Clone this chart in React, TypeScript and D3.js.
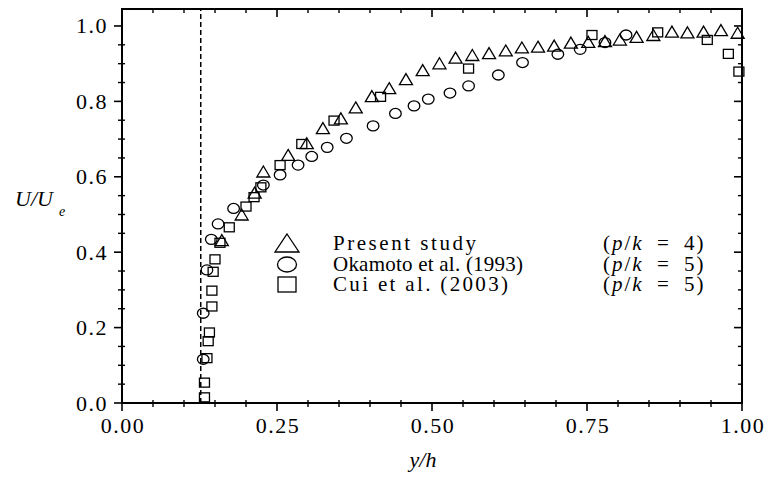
import React from "react";
import * as d3 from "d3";

// Present study (p/k = 4) — triangles
const presentX = [0.161, 0.193, 0.214, 0.228, 0.268, 0.298, 0.324, 0.353, 0.377, 0.403, 0.431, 0.458, 0.485, 0.512, 0.538, 0.565, 0.592, 0.619, 0.645, 0.671, 0.697, 0.724, 0.752, 0.779, 0.803, 0.830, 0.857, 0.887, 0.912, 0.938, 0.966, 0.993];
const presentY = [0.432, 0.500, 0.558, 0.614, 0.658, 0.689, 0.729, 0.755, 0.784, 0.814, 0.835, 0.859, 0.883, 0.901, 0.916, 0.923, 0.928, 0.935, 0.943, 0.945, 0.948, 0.956, 0.958, 0.960, 0.964, 0.971, 0.976, 0.985, 0.983, 0.985, 0.989, 0.982];

// Okamoto et al. (1993) (p/k = 5) — circles
const okamotoX = [0.131, 0.131, 0.137, 0.144, 0.155, 0.180, 0.228, 0.255, 0.284, 0.306, 0.331, 0.362, 0.405, 0.441, 0.471, 0.494, 0.529, 0.559, 0.607, 0.646, 0.703, 0.739, 0.779, 0.813];
const okamotoY = [0.116, 0.238, 0.353, 0.434, 0.475, 0.516, 0.578, 0.605, 0.631, 0.654, 0.678, 0.702, 0.735, 0.768, 0.788, 0.806, 0.822, 0.841, 0.870, 0.903, 0.925, 0.938, 0.956, 0.976];

// Cui et al. (2003) (p/k = 5) — squares
const cuiX = [0.133, 0.133, 0.137, 0.139, 0.141, 0.145, 0.145, 0.147, 0.150, 0.158, 0.173, 0.200, 0.213, 0.224, 0.255, 0.290, 0.342, 0.417, 0.559, 0.758, 0.864, 0.944, 0.978, 0.995];
const cuiY = [0.015, 0.054, 0.119, 0.164, 0.187, 0.256, 0.298, 0.348, 0.381, 0.425, 0.466, 0.521, 0.546, 0.572, 0.631, 0.687, 0.749, 0.812, 0.887, 0.976, 0.983, 0.963, 0.926, 0.879];

const dashedLineX = 0.127;

const xTickValues = [0, 0.25, 0.5, 0.75, 1.0];
const xTickLabels = ["0.00", "0.25", "0.50", "0.75", "1.00"];
const yTickValues = [0, 0.2, 0.4, 0.6, 0.8, 1.0];
const yTickLabels = ["0.0", "0.2", "0.4", "0.6", "0.8", "1.0"];

const legendNames = ["Present study", "Okamoto et al. (1993)", "Cui et al. (2003)"];
const legendPk = ["4", "5", "5"];

const W = 764;
const H = 478;
const L = 122, R = 742, T = 9, B = 403;
const FONT = "Liberation Serif, Times New Roman, Times, serif";
const TS: React.CSSProperties = { fontFamily: FONT };

const x = d3.scaleLinear().domain([0, 1]).range([L, R]);
const y = d3.scaleLinear().domain([0, 1.045]).range([B, T]);

function Triangle({ cx, cy, w, h }: { cx: number; cy: number; w: number; h: number }) {
  const p = d3.path();
  p.moveTo(cx, cy - h / 2);
  p.lineTo(cx + w / 2, cy + h / 2);
  p.lineTo(cx - w / 2, cy + h / 2);
  p.closePath();
  return <path d={p.toString()} fill="none" stroke="#000" strokeWidth={1.3} strokeLinejoin="miter" />;
}

export default function App() {
  const minorX = d3.range(0.05, 1.0, 0.05).filter((v) => Math.abs(v / 0.25 - Math.round(v / 0.25)) > 1e-6);
  const minorY = d3.range(0.05, 1.04, 0.05).filter((v) => Math.abs(v / 0.2 - Math.round(v / 0.2)) > 1e-6);

  const legendRowsY = [243, 264.5, 284.5];
  const legendTextBase = [250, 271, 291];
  const nameLengths = [143, 190, 175];

  return (
    <svg width={W} height={H} style={{ position: "absolute", left: 0, top: 0, background: "#fff" }}>
      <rect x={0} y={0} width={W} height={H} fill="#fff" />
      {/* dashed line */}
      <line x1={x(dashedLineX)} x2={x(dashedLineX)} y1={B} y2={T} stroke="#000" strokeWidth={1.5} strokeDasharray="5,3" />

      {/* data */}
      {presentX.map((v, i) => (
        <Triangle key={"t" + i} cx={x(v)} cy={y(presentY[i])} w={13} h={11} />
      ))}
      {okamotoX.map((v, i) => (
        <ellipse key={"c" + i} cx={x(v)} cy={y(okamotoY[i])} rx={5.8} ry={5} fill="none" stroke="#000" strokeWidth={1.3} />
      ))}
      {cuiX.map((v, i) => (
        <rect key={"s" + i} x={x(v) - 5} y={y(cuiY[i]) - 4.5} width={10} height={9} fill="none" stroke="#000" strokeWidth={1.3} />
      ))}

      {/* frame */}
      <rect x={L} y={T} width={R - L} height={B - T} fill="none" stroke="#000" strokeWidth={2} />

      {/* x ticks */}
      {xTickValues.map((v, i) => (
        <g key={"xt" + i}>
          <line x1={x(v)} x2={x(v)} y1={B} y2={B + 8} stroke="#000" strokeWidth={1.6} />
          <line x1={x(v)} x2={x(v)} y1={T} y2={T + 8} stroke="#000" strokeWidth={1.6} />
          <text x={x(v) + 1} y={433} textAnchor="middle" fontSize={22} letterSpacing={1.5} fill="#000" style={TS}>
            {xTickLabels[i]}
          </text>
        </g>
      ))}
      {minorX.map((v, i) => (
        <g key={"xm" + i}>
          <line x1={x(v)} x2={x(v)} y1={B - 3} y2={B + 4} stroke="#000" strokeWidth={1.4} />
          <line x1={x(v)} x2={x(v)} y1={T} y2={T + 4} stroke="#000" strokeWidth={1.4} />
        </g>
      ))}

      {/* y ticks */}
      {yTickValues.map((v, i) => (
        <g key={"yt" + i}>
          <line x1={L - 8} x2={L} y1={y(v)} y2={y(v)} stroke="#000" strokeWidth={1.6} />
          <line x1={R - 8} x2={R} y1={y(v)} y2={y(v)} stroke="#000" strokeWidth={1.6} />
          <text x={108} y={y(v) + 7.5} textAnchor="end" fontSize={22} letterSpacing={1.5} fill="#000" style={TS}>
            {yTickLabels[i]}
          </text>
        </g>
      ))}
      {minorY.map((v, i) => (
        <g key={"ym" + i}>
          <line x1={L - 4} x2={L + 3} y1={y(v)} y2={y(v)} stroke="#000" strokeWidth={1.4} />
          <line x1={R - 4} x2={R} y1={y(v)} y2={y(v)} stroke="#000" strokeWidth={1.4} />
        </g>
      ))}

      {/* axis titles */}
      <text x={423} y={467} textAnchor="middle" fontSize={22} fontStyle="italic" fill="#000" style={TS}>y/h</text>
      <text x={15} y={206} fontSize={22} fontStyle="italic" fill="#000" style={TS}>U/U</text>
      <text x={59} y={216} fontSize={14} fontStyle="italic" fill="#000" style={TS}>e</text>

      {/* legend */}
      <Triangle cx={287} cy={legendRowsY[0]} w={24} h={18} />
      <ellipse cx={287} cy={legendRowsY[1]} rx={9.5} ry={7.5} fill="none" stroke="#000" strokeWidth={1.3} />
      <rect x={278} y={legendRowsY[2] - 7.5} width={18} height={15} fill="none" stroke="#000" strokeWidth={1.3} />
      {legendNames.map((n, i) => (
        <g key={"lg" + i}>
          <text x={333} y={legendTextBase[i]} fontSize={21} textLength={nameLengths[i]} lengthAdjust="spacing" fill="#000" style={TS}>
            {n}
          </text>
          <text x={603} y={legendTextBase[i]} fontSize={21} letterSpacing={2} wordSpacing={6} fill="#000" style={TS}>
            (<tspan fontStyle="italic">p</tspan>/<tspan fontStyle="italic">k</tspan> = {legendPk[i]})
          </text>
        </g>
      ))}
    </svg>
  );
}
